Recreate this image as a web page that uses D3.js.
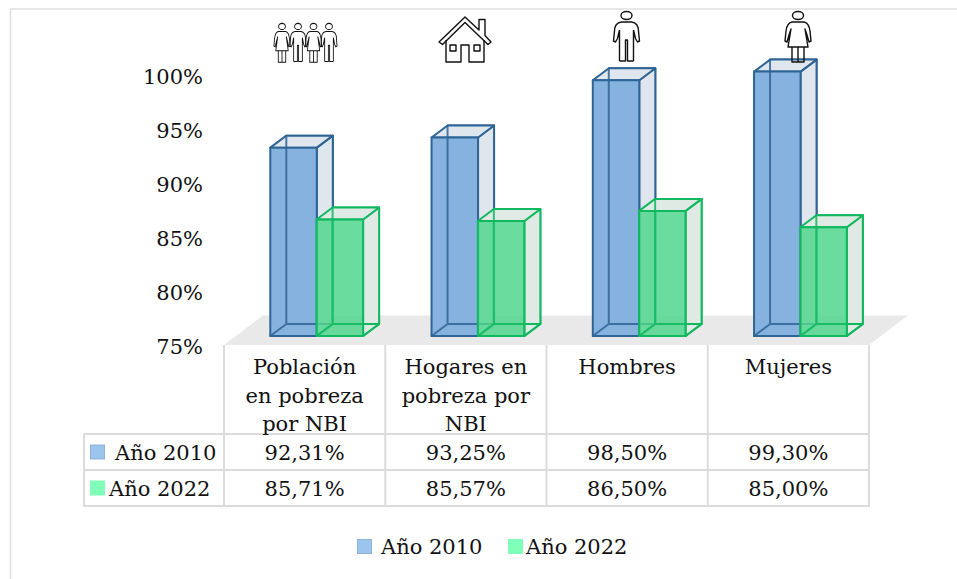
<!DOCTYPE html>
<html><head><meta charset="utf-8">
<script src="https://cdn.jsdelivr.net/npm/d3@7"></script>
<style>html,body{margin:0;padding:0;background:#fff}svg{display:block}text{font-family:"DejaVu Serif",serif;fill:#111}</style>
</head><body><svg id="c" width="957" height="579"></svg>
<script>
const categories=[["Población","en pobreza","por NBI"],["Hogares en","pobreza por","NBI"],["Hombres"],["Mujeres"]];
const seriesNames=["Año 2010","Año 2022"];
const values2010=[92.31,93.25,98.5,99.3];
const values2022=[85.71,85.57,86.5,85];
const labels2010=["92,31%","93,25%","98,50%","99,30%"];
const labels2022=["85,71%","85,57%","86,50%","85,00%"];
const yTicks=[75,80,85,90,95,100];
const series=[values2010,values2022];
const seriesLabels=[labels2010,labels2022];
const svg=d3.select("#c");
const grid="#dcdcdc";
const fs="21px";
const styles=[{swatch:"#9cc5ee",swatchStroke:"#8fb4d9",front:"#85b2de",side:"#e0e6ee",line:"#2f6496"},
              {swatch:"#7fffba",swatchStroke:"#7fffba",front:"rgba(80,214,140,.85)",side:"#dfeae4",line:"#10b860"}];
const dx=16,dy=-12;
const idx=d3.range(categories.length);
const xCol=d3.scaleBand().domain(idx).range([224,869]);
const y=d3.scaleLinear().domain([75,100]).range([336,64]);
const yLab=d3.scaleLinear().domain([75,100]).range([347,76.5]);
// frame
svg.append("path").attr("d","M10.500,579V9H957").attr("fill","none").attr("stroke","#e0e0e0").attr("stroke-width",1.6);
// floor
svg.append("polygon").attr("points","224,345 869,345 908,315.5 263,315.5").attr("fill","#e9e9e9");
// axis
const axis=svg.append("g").attr("transform","translate(203,0)").call(d3.axisLeft(yLab).tickValues(yTicks).tickSize(0).tickPadding(0).tickFormat(d=>d+"%"));
axis.select(".domain").remove();
axis.selectAll("text").style("font-size",fs).style("font-family",'"DejaVu Serif",serif').attr("dy","0.33em");
// bars
const barW=46.5;
const xOff=d3.scaleOrdinal().domain([0,1]).range([46.3,92.6]);
[0,1].forEach(s=>{
  const st=styles[s];
  const g=svg.append("g");
  idx.forEach(i=>{
    const x0=xCol(i)+xOff(s),x1=x0+barW,yt=y(series[s][i]),yb=y(75);
    const poly=(pts,fill)=>g.append("polygon").attr("points",pts.map(p=>p.join(",")).join(" ")).attr("fill",fill).attr("stroke",st.line).attr("stroke-width",2).attr("stroke-linejoin","round");
    poly([[x0+dx,yb+dy],[x1+dx,yb+dy],[x1+dx,yt+dy],[x0+dx,yt+dy]],"none");
    poly([[x1,yb],[x1+dx,yb+dy],[x1+dx,yt+dy],[x1,yt]],st.side);
    poly([[x0,yt],[x1,yt],[x1+dx,yt+dy],[x0+dx,yt+dy]],st.side);
    poly([[x0,yb],[x1,yb],[x1+dx,yb+dy],[x0+dx,yb+dy]],"none");
    poly([[x0,yb],[x1,yb],[x1,yt],[x0,yt]],st.front);
    g.append("path").attr("d",`M${x0+dx},${yt+dy}V${yb+dy}H${x1+dx}M${x0+dx},${yb+dy}L${x0},${yb}`).attr("fill","none").attr("stroke",st.line).attr("stroke-width",2).attr("opacity",.85);
  });
});
// table
const rowsY=[346,434,470,506];
const colX=[224,...idx.map(i=>xCol(i)+xCol.bandwidth())];
const t=svg.append("g").attr("fill","none").attr("stroke",grid).attr("stroke-width",2);
colX.forEach(x=>t.append("line").attr("x1",x).attr("x2",x).attr("y1",345).attr("y2",507));
t.append("line").attr("x1",84).attr("x2",84).attr("y1",434).attr("y2",507);
rowsY.slice(1).forEach(yy=>t.append("line").attr("x1",83).attr("x2",870).attr("y1",yy).attr("y2",yy));
const cx=i=>xCol(i)+xCol.bandwidth()/2;
categories.forEach((lines,i)=>lines.forEach((l,j)=>svg.append("text").attr("x",cx(i)).attr("y",374+j*28.5).attr("text-anchor","middle").style("font-size",fs).text(l)));
seriesLabels.forEach((ls,s)=>ls.forEach((l,i)=>svg.append("text").attr("x",cx(i)).attr("y",460+s*36).attr("text-anchor","middle").style("font-size",fs).text(l)));
seriesNames.forEach((n,s)=>{
  svg.append("rect").attr("x",90.5).attr("y",445+s*36).attr("width",14).attr("height",14).attr("fill",styles[s].swatch).attr("stroke",styles[s].swatchStroke);
  svg.append("text").attr("x",s?109:115).attr("y",460+s*36).style("font-size",fs).text(n);
});
// legend
[[357,381],[508,526]].forEach(([sx,tx],s)=>{
  svg.append("rect").attr("x",sx+.5).attr("y",539.5).attr("width",14).attr("height",14).attr("fill",styles[s].swatch).attr("stroke",styles[s].swatchStroke);
  svg.append("text").attr("x",tx).attr("y",554).style("font-size",fs).text(seriesNames[s]);
});
// icons
const ic=svg.append("g").attr("fill","none").attr("stroke","#111").attr("stroke-width",1.4).attr("stroke-linejoin","round");
function man(x,top,sx,sy){const g=ic.append("g").attr("transform",`translate(${x},${top}) scale(${sx},${sy})`);
  g.append("ellipse").attr("cx",0).attr("cy",4.5).attr("rx",5.5).attr("ry",4);
  g.append("path").attr("d","M-7,50V19M7,50V19M-7,50H-1V29H1V50H7M-7,19L-9,27.5L-11,31L-13,30L-12,20Q-12,12 -5,11H5Q12,12 12,20L13,30L11,31L9,27.5L7,19");}
function woman(x,top,sx,sy){const g=ic.append("g").attr("transform",`translate(${x},${top}) scale(${sx},${sy})`);
  g.append("ellipse").attr("cx",0).attr("cy",4.5).attr("rx",5.5).attr("ry",4);
  g.append("path").attr("d","M-6,11H6Q11,12 12,20L13,30L11,31L9,24L7,18L10,36H-10L-7,18L-9,24L-11,31L-13,30L-12,20Q-11,12 -6,11ZM-6,36V51H6V36M0,36V51");}
man(626.5,11,1,1); woman(798,11,1,1);
[[282,0],[298,1],[313.5,0],[329,1]].forEach(([x,k])=>(k?man:woman)(x,23,.62,.77));
const h=ic.append("g").attr("transform","translate(465,16)");
h.append("path").attr("d","M-26,26L0,1L14,14V3.5H20V19.5L26,26L23,28.500L0,6.500L-22.500,28.500Z");
h.append("path").attr("d","M-19,24V46H-4V29H4V46H19V24");
h.append("rect").attr("x",-15).attr("y",29).attr("width",6).attr("height",6);
h.append("rect").attr("x",9).attr("y",29).attr("width",6).attr("height",6);
</script></body></html>
